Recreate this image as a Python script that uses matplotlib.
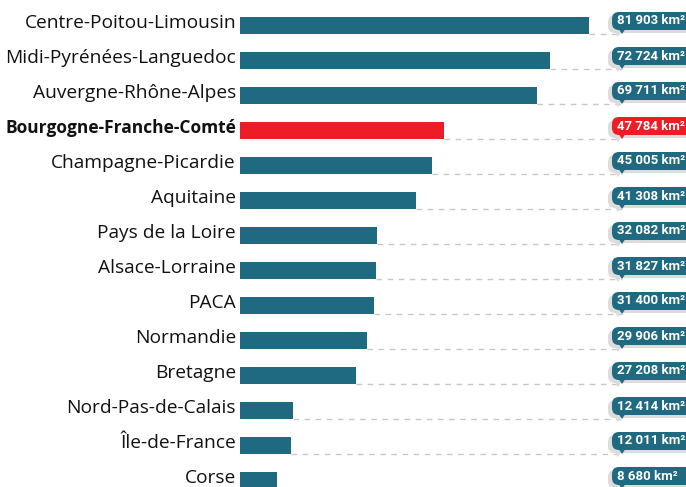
import matplotlib
matplotlib.use("Agg")
import matplotlib.pyplot as plt
from matplotlib.patches import Polygon, FancyBboxPatch
from matplotlib.transforms import Affine2D

regions = ["Centre-Poitou-Limousin", "Midi-Pyrénées-Languedoc", "Auvergne-Rhône-Alpes",
           "Bourgogne-Franche-Comté", "Champagne-Picardie", "Aquitaine", "Pays de la Loire",
           "Alsace-Lorraine", "PACA", "Normandie", "Bretagne", "Nord-Pas-de-Calais",
           "Île-de-France", "Corse"]
surfaces = [81903, 72724, 69711, 47784, 45005, 41308, 32082, 31827, 31400, 29906,
            27208, 12414, 12011, 8680]
highlight = "Bourgogne-Franche-Comté"

BLUE = "#1f6a80"
RED = "#ee1c25"
SHADOW = "#dcdcdc"

W, H = 686, 487
x0_px = 240            # left edge of bars
px_per_km = (589 - 240) / 81903
row0_px, row_step = 25.5, 35.0

fig = plt.figure(figsize=(W / 100, H / 100), dpi=100)
ax = fig.add_axes([x0_px / W, 0, (W - x0_px) / W, 1])
ax.set_xlim(0, (W - x0_px) / px_per_km)
ax.set_ylim((H - row0_px) / row_step, -row0_px / row_step)
ax.axis("off")

# pixel coords, origin top-left (figure saved at its own dpi)
px = Affine2D().scale(1, -1).translate(0, H)

bar_h = 17 / row_step
pin_x = 622
for i, (name, val) in enumerate(zip(regions, surfaces)):
    col = RED if name == highlight else BLUE
    bottom = i + bar_h / 2
    yb = row0_px + row_step * i + 8.5      # bar bottom in px
    # dashed guide
    ax.plot([val, (pin_x - x0_px) / px_per_km], [bottom, bottom], color="#c8c8c8",
            lw=1, dashes=(4, 4), zorder=1)
    ax.barh(i, val, height=bar_h, color=col, zorder=2)
    bold = name == highlight
    ax.text(-4 / px_per_km, i - 2.5 / row_step, name, ha="right", va="center",
            fontsize=12.5 if bold else 13.8, family="Open Sans", color="#111111",
            fontweight="bold" if bold else "normal")

    # callout: shadow, pill, pin
    top = yb - 22
    for dx, dy, fc, z in [(-4, 3, SHADOW, 3), (0, 0, col, 5)]:
        fig.patches.append(FancyBboxPatch((612 + dx, top + dy), 90, 18,
                                          boxstyle="round,pad=0,rounding_size=7",
                                          fc=fc, ec="none", transform=px, zorder=z))
        fig.patches.append(Polygon([(pin_x - 4 + dx, top + 16 + dy), (pin_x + 4 + dx, top + 16 + dy),
                                    (pin_x + dx, yb + dy)], closed=True, fc=fc, ec="none",
                                   transform=px, zorder=z))
    label = f"{val:,}".replace(",", " ") + " km²"
    fig.text(617, top + 9, label, ha="left", va="center", fontsize=9.5,
             family="Roboto", fontweight="bold", color="white", transform=px, zorder=6)

fig.savefig("out.png", dpi=100)
